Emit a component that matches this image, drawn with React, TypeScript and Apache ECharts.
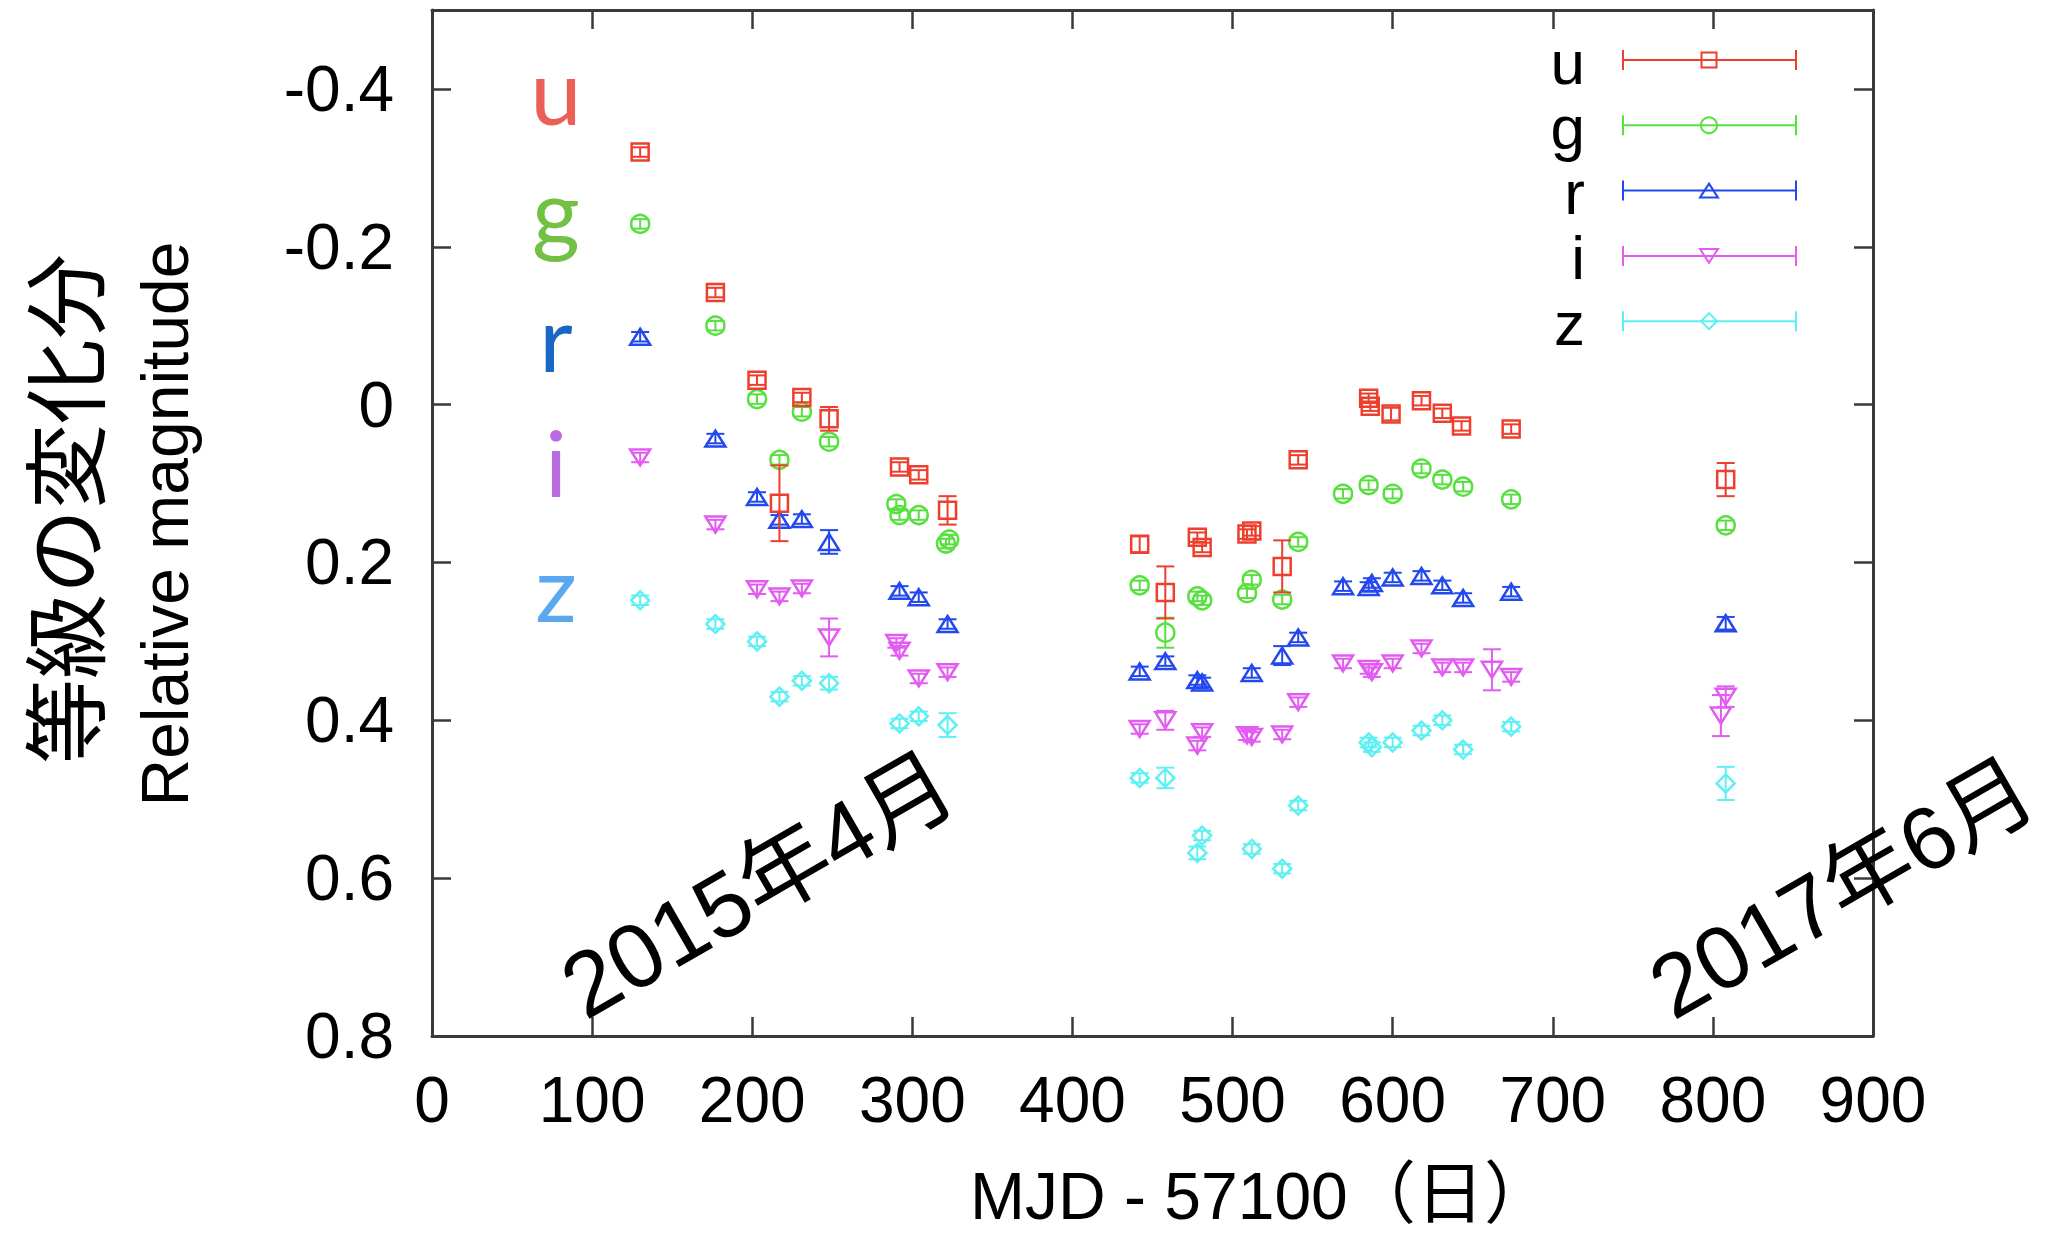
import React, { useEffect, useRef } from 'react';
import * as echarts from 'echarts';

// Relative magnitude light curves, [MJD - 57100, Δmag, error]
const uData = [
  [130, -0.32, 0.006], [177, -0.142, 0.006], [203, -0.031, 0.006], [217, 0.125, 0.048],
  [231, -0.009, 0.006], [248, 0.018, 0.015], [292, 0.079, 0.006], [304, 0.089, 0.006],
  [322, 0.134, 0.018], [442, 0.177, 0.01], [458, 0.238, 0.033], [478, 0.168, 0.006],
  [481, 0.181, 0.006], [509, 0.164, 0.006], [512, 0.16, 0.006], [531, 0.205, 0.033],
  [541, 0.07, 0.006], [585, -0.008, 0.006], [586, 0.002, 0.006], [599, 0.012, 0.008],
  [618, -0.005, 0.006], [631, 0.011, 0.006], [643, 0.027, 0.006], [674, 0.031, 0.006],
  [808, 0.095, 0.021],
];
const gData = [
  [130, -0.229, 0.006], [177, -0.1, 0.006], [203, -0.007, 0.006], [217, 0.07, 0.006],
  [231, 0.009, 0.006], [248, 0.047, 0.006], [290, 0.126, 0.006], [292, 0.14, 0.006],
  [304, 0.14, 0.006], [321, 0.176, 0.006], [323, 0.171, 0.006], [442, 0.229, 0.006],
  [458, 0.289, 0.019], [478, 0.243, 0.006], [481, 0.248, 0.006], [509, 0.239, 0.006],
  [512, 0.222, 0.006], [531, 0.247, 0.006], [541, 0.174, 0.006], [569, 0.113, 0.006],
  [585, 0.102, 0.006], [600, 0.113, 0.006], [618, 0.081, 0.006], [631, 0.095, 0.006],
  [644, 0.104, 0.006], [674, 0.12, 0.006], [808, 0.153, 0.006],
];
const rData = [
  [130, -0.086, 0.006], [177, 0.043, 0.006], [203, 0.117, 0.006], [217, 0.146, 0.006],
  [231, 0.145, 0.006], [248, 0.174, 0.015], [292, 0.236, 0.006], [304, 0.244, 0.006],
  [322, 0.278, 0.006], [442, 0.338, 0.006], [458, 0.325, 0.006], [478, 0.349, 0.006],
  [481, 0.352, 0.006], [512, 0.34, 0.006], [531, 0.318, 0.012], [541, 0.295, 0.006],
  [569, 0.23, 0.006], [585, 0.231, 0.006], [587, 0.226, 0.006], [600, 0.219, 0.006],
  [618, 0.217, 0.006], [631, 0.229, 0.006], [644, 0.245, 0.006], [674, 0.237, 0.006],
  [808, 0.277, 0.008],
];
const iData = [
  [130, 0.067, 0.006], [177, 0.152, 0.006], [203, 0.234, 0.006], [217, 0.243, 0.006],
  [231, 0.233, 0.006], [248, 0.295, 0.024], [290, 0.302, 0.006], [292, 0.312, 0.006],
  [304, 0.347, 0.006], [322, 0.339, 0.006], [442, 0.411, 0.006], [458, 0.4, 0.012],
  [478, 0.432, 0.006], [481, 0.415, 0.006], [509, 0.419, 0.006], [512, 0.421, 0.006],
  [531, 0.418, 0.006], [541, 0.377, 0.006], [569, 0.328, 0.006], [585, 0.335, 0.006],
  [587, 0.339, 0.006], [600, 0.328, 0.006], [618, 0.309, 0.006], [631, 0.333, 0.006],
  [644, 0.333, 0.006], [662, 0.336, 0.026], [674, 0.345, 0.006], [805, 0.394, 0.026],
  [808, 0.37, 0.013],
];
const zData = [
  [130, 0.248, 0.006], [177, 0.278, 0.006], [203, 0.3, 0.006], [217, 0.37, 0.006],
  [231, 0.35, 0.006], [248, 0.353, 0.008], [292, 0.404, 0.006], [304, 0.395, 0.006],
  [322, 0.406, 0.015], [442, 0.473, 0.006], [458, 0.473, 0.013], [478, 0.568, 0.008],
  [481, 0.546, 0.006], [512, 0.563, 0.006], [531, 0.588, 0.006], [541, 0.508, 0.006],
  [585, 0.428, 0.006], [587, 0.434, 0.006], [600, 0.428, 0.006], [618, 0.413, 0.006],
  [631, 0.4, 0.006], [644, 0.437, 0.006], [674, 0.408, 0.006], [808, 0.48, 0.021],
];

const bandNames = ['u', 'g', 'r', 'i', 'z'];
const bandData = [uData, gData, rData, iData, zData];
const bandShapes = ['square', 'circle', 'triangleUp', 'triangleDown', 'diamond'];
const markerColors = ['#ee3f2e', '#58e040', '#2348ee', '#e35cf1', '#5ef0f2'];
const letterColors = ['#ec5f57', '#72c044', '#1a66c4', '#b86ce0', '#5aa8f0'];

const xMin = 0;
const xMax = 900;
const xInterval = 100;
const yMin = -0.5;
const yMax = 0.8;
const yTickValues = [-0.4, -0.2, 0, 0.2, 0.4, 0.6, 0.8];

const xTitle = 'MJD - 57100';
const xTitleUnit = '（日）';
const yTitleJa = '等級の変化分';
const yTitleEn = 'Relative magnitude';
const startLabel = '2015年4月';
const endLabel = '2017年6月';

const AXIS_COLOR = '#3a3a3a';
const LATIN = '"Liberation Sans", Arial, Helvetica, sans-serif';
const CJK = '"Noto Sans CJK JP", "Noto Sans CJK SC", sans-serif';
const MIXED = '"Liberation Sans", Arial, "Noto Sans CJK JP", sans-serif';

function markerElement(shape: string, cx: number, cy: number, color: string, lw: number, s = 9) {
  const style = { fill: 'none', stroke: color, lineWidth: lw };
  switch (shape) {
    case 'square':
      return { type: 'rect', shape: { x: cx - s + 0.5, y: cy - s + 0.5, width: 2 * s - 1, height: 2 * s - 1 }, style };
    case 'circle':
      return { type: 'circle', shape: { cx, cy, r: s }, style };
    case 'triangleUp':
      return { type: 'polygon', shape: { points: [[cx, cy - s + 1], [cx + s + 1, cy + s - 1], [cx - s - 1, cy + s - 1]] }, style };
    case 'triangleDown':
      return { type: 'polygon', shape: { points: [[cx - s - 1, cy - s + 1], [cx + s + 1, cy - s + 1], [cx, cy + s - 1]] }, style };
    default:
      return { type: 'polygon', shape: { points: [[cx, cy - s], [cx + s, cy], [cx, cy + s], [cx - s, cy]] }, style };
  }
}

function errorBarRenderer(shape: string, color: string) {
  return (_params: any, api: any) => {
    const x = api.value(0);
    const y = api.value(1);
    const e = api.value(2);
    const c = api.coord([x, y]);
    const top = api.coord([x, y - e])[1];
    const bot = api.coord([x, y + e])[1];
    const cap = 9;
    const line = { stroke: color, lineWidth: 2 };
    return {
      type: 'group',
      children: [
        { type: 'line', shape: { x1: c[0], y1: top, x2: c[0], y2: bot }, style: line },
        { type: 'line', shape: { x1: c[0] - cap, y1: top, x2: c[0] + cap, y2: top }, style: line },
        { type: 'line', shape: { x1: c[0] - cap, y1: bot, x2: c[0] + cap, y2: bot }, style: line },
        markerElement(shape, c[0], c[1], color, 2.5),
      ],
    };
  };
}

function legendGraphics() {
  const els: any[] = [];
  const x1 = 1623;
  const x2 = 1796;
  const xm = 1709;
  bandNames.forEach((name, k) => {
    const ly = 60 + 65.3 * k;
    const color = markerColors[k];
    const st = { stroke: color, lineWidth: 2 };
    els.push({
      type: 'text', x: 1585, y: ly + 2,
      style: {
        text: name, fontSize: 62, lineHeight: 56, fontFamily: LATIN, fill: '#000',
        align: 'right', verticalAlign: 'middle',
      },
    });
    els.push({ type: 'line', shape: { x1, y1: ly, x2, y2: ly }, style: st });
    els.push({ type: 'line', shape: { x1, y1: ly - 10, x2: x1, y2: ly + 10 }, style: st });
    els.push({ type: 'line', shape: { x1: x2, y1: ly - 10, x2, y2: ly + 10 }, style: st });
    els.push(markerElement(bandShapes[k], xm, ly, color, 2, 8));
  });
  return els;
}

function letterGraphics() {
  const baselines = [125, 245, 372, 497, 622];
  return bandNames.map((name, k) => ({
    type: 'text', x: 556, y: baselines[k] - 36,
    style: {
      text: name, fontSize: 92, fontFamily: 'Lato, "Noto Sans", sans-serif', fontWeight: 'normal',
      fill: letterColors[k], align: 'center', verticalAlign: 'middle',
    },
  }));
}

export default function App() {
  const ref = useRef<HTMLDivElement>(null);

  useEffect(() => {
    if (!ref.current) return;
    const chart = echarts.init(ref.current, undefined, { renderer: 'svg' });

    const axisLine = { show: true, onZero: false, lineStyle: { color: AXIS_COLOR, width: 3 } };
    const axisTickBase = { show: true, inside: true, length: 19, lineStyle: { color: AXIS_COLOR, width: 2.5 } };

    const option: any = {
      animation: false,
      backgroundColor: '#ffffff',
      grid: { left: 432, top: 10, right: 186, bottom: 202, containLabel: false, outerBoundsMode: 'none' },
      xAxis: [
        {
          type: 'value', min: xMin, max: xMax, interval: xInterval, position: 'bottom',
          axisLine, axisTick: axisTickBase, splitLine: { show: false },
          axisLabel: { fontSize: 64, fontFamily: LATIN, color: '#000', margin: 32 },
        },
        {
          type: 'value', min: xMin, max: xMax, interval: xInterval, position: 'top',
          axisLine, axisTick: axisTickBase, splitLine: { show: false }, axisLabel: { show: false },
        },
      ],
      yAxis: [
        {
          type: 'value', min: yMin, max: yMax, inverse: true, position: 'left',
          axisLine, splitLine: { show: false },
          axisTick: { ...axisTickBase, customValues: yTickValues },
          axisLabel: {
            customValues: yTickValues, fontSize: 64, fontFamily: LATIN, color: '#000', margin: 38,
            formatter: (v: number) => (Math.abs(v) < 1e-9 ? '0' : v.toFixed(1)),
          },
        },
        {
          type: 'value', min: yMin, max: yMax, inverse: true, position: 'right',
          axisLine, splitLine: { show: false },
          axisTick: { ...axisTickBase, customValues: yTickValues },
          axisLabel: { show: false, customValues: yTickValues },
        },
      ],
      series: bandNames.map((name, k) => ({
        name,
        type: 'custom',
        xAxisIndex: 0,
        yAxisIndex: 0,
        coordinateSystem: 'cartesian2d',
        encode: { x: 0, y: 1 },
        renderItem: errorBarRenderer(bandShapes[k], markerColors[k]),
        data: bandData[k],
        z: 10 - k,
      })),
      graphic: [
        {
          type: 'text', x: 60, y: 509, rotation: Math.PI / 2,
          style: { text: yTitleJa, fontSize: 85, fontFamily: CJK, fill: '#000', align: 'center', verticalAlign: 'middle' },
        },
        {
          type: 'text', x: 165, y: 524, rotation: Math.PI / 2,
          style: { text: yTitleEn, fontSize: 66, fontFamily: LATIN, fill: '#000', align: 'center', verticalAlign: 'middle' },
        },
        {
          type: 'text', x: 970, y: 1196,
          style: { text: xTitle, fontSize: 66, fontFamily: LATIN, fill: '#000', align: 'left', verticalAlign: 'middle' },
        },
        {
          type: 'text', x: 1348, y: 1188,
          style: {
            text: xTitleUnit, fontSize: 68, fontFamily: CJK, fill: '#000',
            align: 'left', verticalAlign: 'middle',
          },
        },
        {
          type: 'text', x: 758, y: 885, rotation: Math.PI / 6, z: 100,
          style: {
            text: startLabel, fontSize: 91, lineHeight: 70, fontFamily: MIXED, fill: '#000',
            align: 'center', verticalAlign: 'middle',
          },
        },
        {
          type: 'text', x: 1842, y: 888, rotation: Math.PI / 6, z: 100,
          style: {
            text: endLabel, fontSize: 89, lineHeight: 70, fontFamily: MIXED, fill: '#000',
            align: 'center', verticalAlign: 'middle',
          },
        },
        ...letterGraphics(),
        ...legendGraphics(),
      ],
    };

    chart.setOption(option);
    return () => chart.dispose();
  }, []);

  return (
    <div
      ref={ref}
      style={{ position: 'fixed', left: 0, top: 0, width: '2059px', height: '1238px', background: '#fff' }}
    />
  );
}
